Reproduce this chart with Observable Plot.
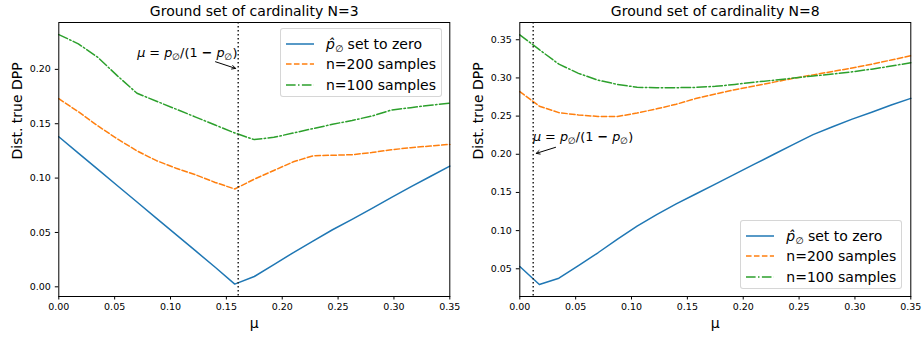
<!DOCTYPE html>
<html><head><meta charset="utf-8">
<script src="https://cdn.jsdelivr.net/npm/d3@7"></script>
<script src="https://cdn.jsdelivr.net/npm/@observablehq/plot@0.6"></script>
<style>
body{margin:0;background:#fff;font-family:"DejaVu Sans",sans-serif;}
#wrap{display:flex;width:922px;height:337px;}
.panel{position:relative;width:461px;height:337px;}
.legend{position:absolute;border:1px solid rgba(204,204,204,0.8);border-radius:3px;background:rgba(255,255,255,0.8);font-size:14px;color:#000;box-sizing:border-box;}
.row{position:absolute;left:0;height:20px;width:100%;}
.row svg{position:absolute;left:5px;top:0;}
.row span.lab{position:absolute;left:45px;top:1px;white-space:nowrap;line-height:18px;}
</style></head><body><div id="wrap"></div><script>
// ---- data ----
const muGrid = [0, 0.0175, 0.035, 0.0525, 0.07, 0.0875, 0.105, 0.1225, 0.14, 0.1575, 0.175, 0.1925, 0.21, 0.2275, 0.245, 0.2625, 0.28, 0.2975, 0.315, 0.3325, 0.35];
// N = 3
const zeroN3 = [0.138, 0.123, 0.108, 0.093, 0.078, 0.063, 0.048, 0.033, 0.018, 0.0025, 0.0095, 0.0205, 0.0315, 0.042, 0.0525, 0.062, 0.072, 0.082, 0.092, 0.1015, 0.111];
const n200N3 = [0.173, 0.161, 0.148, 0.136, 0.125, 0.116, 0.109, 0.103, 0.096, 0.090, 0.099, 0.107, 0.115, 0.1205, 0.121, 0.1215, 0.1235, 0.126, 0.128, 0.1295, 0.131];
const n100N3 = [0.232, 0.2235, 0.211, 0.194, 0.178, 0.1707, 0.1634, 0.1561, 0.1488, 0.1415, 0.1354, 0.1375, 0.1415, 0.1455, 0.1495, 0.153, 0.157, 0.1625, 0.1648, 0.167, 0.169];
// N = 8
const zeroN8 = [0.053, 0.0295, 0.0377, 0.054, 0.071, 0.089, 0.106, 0.121, 0.135, 0.148, 0.161, 0.174, 0.187, 0.200, 0.213, 0.2257, 0.236, 0.246, 0.255, 0.2645, 0.2732];
const n200N8 = [0.282, 0.263, 0.2545, 0.2515, 0.2495, 0.2495, 0.254, 0.2595, 0.2655, 0.273, 0.279, 0.2845, 0.2895, 0.2945, 0.2995, 0.304, 0.3085, 0.313, 0.318, 0.3235, 0.329];
const n100N8 = [0.3565, 0.337, 0.318, 0.306, 0.297, 0.2915, 0.2878, 0.2872, 0.2872, 0.2876, 0.289, 0.2915, 0.2945, 0.297, 0.2999, 0.3025, 0.305, 0.308, 0.3115, 0.3155, 0.3199];

const xTicks = [0, 0.05, 0.10, 0.15, 0.20, 0.25, 0.30, 0.35];
const yTicksN3 = [0, 0.05, 0.10, 0.15, 0.20];
const yTicksN8 = [0.05, 0.10, 0.15, 0.20, 0.25, 0.30, 0.35];
const yDomainN3 = [-0.0089, 0.2431];
const yDomainN8 = [0.0137, 0.3726];
const titles = ["Ground set of cardinality N=3", "Ground set of cardinality N=8"];
const seriesLabels = ["p̂∅ set to zero", "n=200 samples", "n=100 samples"];
const muStar = [0.1606, 0.0120];
const annotLabel = "μ = p∅/(1 − p∅)";
// annotation text positions and arrows (data coords)
const annotTextN3 = {mu: 0.1150, v: 0.2151};
const annotArrowN3 = {mu1: 0.1403, v1: 0.2070, mu2: 0.1582, v2: 0.2009};
const annotTextN8 = {mu: 0.0566, v: 0.2222};
const annotArrowN8 = {mu1: 0.0320, v1: 0.2091, mu2: 0.0147, v2: 0.2012};

// ---- styles ----
const colors = ["#1f77b4", "#ff7f0e", "#2ca02c"];
const dashes = [null, "5.55,2.4", "9.6,2.4,1.5,2.4"];

function makePanel(idx, ys, yDomain, yTicks, textPos, arrow, legendPos) {
  const rows = [];
  ys.forEach((arr, s) => arr.forEach((v, i) => rows.push({mu: muGrid[i], v, s})));
  const lineMarks = [0, 1, 2].map(s => Plot.line(rows.filter(d => d.s === s), {
    x: "mu", y: "v", stroke: colors[s], strokeWidth: 1.5,
    strokeDasharray: dashes[s] || undefined
  }));
  const svg = Plot.plot({
    width: 461, height: 337,
    marginLeft: 58.3, marginRight: 11.7, marginTop: 22, marginBottom: 41,
    style: {fontFamily: "DejaVu Sans", fontSize: "9.5px", color: "#000", background: "white", overflow: "visible"},
    x: {domain: [0, 0.35], ticks: xTicks, tickFormat: d3.format(".2f"), tickSize: 3.5, tickPadding: 3.5, label: null},
    y: {domain: yDomain, ticks: yTicks, tickFormat: d3.format(".2f"), tickSize: 3.5, tickPadding: 4.5, label: null},
    marks: [
      ...lineMarks,
      Plot.ruleX([muStar[idx]], {stroke: "#222", strokeWidth: 1.5, strokeDasharray: "1.5,2.5"}),
      Plot.frame({stroke: "#000", strokeWidth: 1}),
      Plot.text([titles[idx]], {frameAnchor: "top", dy: -11, fontSize: 14, lineAnchor: "middle"}),
      Plot.text(["Dist. true DPP"], {frameAnchor: "left", rotate: -90, dx: -41, fontSize: 14, lineAnchor: "middle"}),
      Plot.text(["μ"], {frameAnchor: "bottom", dy: 27, fontSize: 14, lineAnchor: "middle"}),
      Plot.arrow([arrow], {x1: "mu1", y1: "v1", x2: "mu2", y2: "v2", stroke: "#000", strokeWidth: 1, headLength: 6, headAngle: 55}),
      Plot.text([textPos], {x: "mu", y: "v", text: () => annotLabel, fontSize: 12.8, lineAnchor: "middle"})
    ]
  });
  // rich annotation text
  d3.select(svg).selectAll("text").filter(function() { return this.textContent === annotLabel; }).each(function() {
    const t = d3.select(this);
    t.text(null);
    const parts = [
      ["μ", true, 0], [" = ", false, 0], ["p", true, 0], ["∅", false, 3], ["/(1 ", false, -3], ["−", false, 0, true], [" ", false, 0],
      ["p", true, 0], ["∅", false, 3], [")", false, -3]
    ];
    parts.forEach(([s, it, dy, bold]) => {
      const ts = t.append("tspan").text(s);
      if (it) ts.attr("font-style", "italic");
      if (bold) ts.attr("font-weight", "bold");
      if (dy) ts.attr("dy", dy);
      if (s === "∅") ts.attr("font-size", "9px");
    });
  });
  const panel = document.createElement("div");
  panel.className = "panel";
  panel.appendChild(svg);
  // legend
  const lg = document.createElement("div");
  lg.className = "legend";
  Object.assign(lg.style, {left: legendPos[0] + "px", top: legendPos[1] + "px", width: "162px", height: "69px"});
  seriesLabels.forEach((lab, s) => {
    const row = document.createElement("div");
    row.className = "row";
    row.style.top = (4.5 + s * 20.5) + "px";
    const dash = dashes[s] ? `stroke-dasharray="${dashes[s]}"` : "";
    let labHtml = lab;
    if (s === 0) labHtml = `<i>p̂</i><span style="font-size:9.5px;position:relative;top:3px">∅</span> set to zero`;
    row.innerHTML = `<svg width="30" height="20"><line x1="0" x2="28" y1="10" y2="10" stroke="${colors[s]}" stroke-width="1.5" ${dash}/></svg><span class="lab">${labHtml}</span>`;
    lg.appendChild(row);
  });
  panel.appendChild(lg);
  return panel;
}

const wrap = document.getElementById("wrap");
wrap.appendChild(makePanel(0, [zeroN3, n200N3, n100N3], yDomainN3, yTicksN3, annotTextN3, annotArrowN3, [280, 28.3]));
wrap.appendChild(makePanel(1, [zeroN8, n200N8, n100N8], yDomainN8, yTicksN8, annotTextN8, annotArrowN8, [279.3, 220.3]));
</script></body></html>
